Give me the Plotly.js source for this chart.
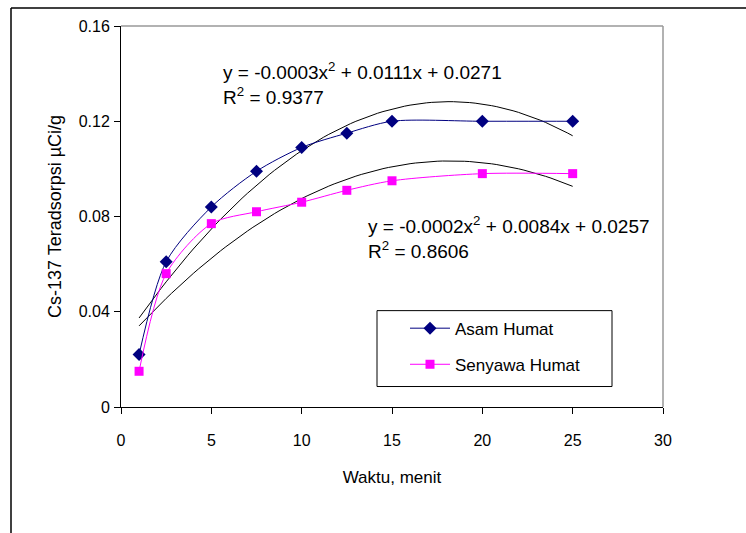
<!DOCTYPE html>
<html>
<head>
<meta charset="utf-8">
<script src="https://cdn.plot.ly/plotly-3.0.1.min.js"></script>
<style>
html,body{margin:0;padding:0;background:#fff;}
#chart{width:746px;height:533px;}
</style>
</head>
<body>
<div id="chart"></div>
<script>
// ---- data ----
var waktu = [1, 2.5, 5, 7.5, 10, 12.5, 15, 20, 25];
var asamHumat = [0.022, 0.061, 0.084, 0.099, 0.109, 0.115, 0.120, 0.120, 0.120];
var senyawaHumat = [0.015, 0.056, 0.077, 0.082, 0.086, 0.091, 0.095, 0.098, 0.098];
var seriesNames = ["Asam Humat", "Senyawa Humat"];
var xTicks = [0, 5, 10, 15, 20, 25, 30];
var yTicks = [0, 0.04, 0.08, 0.12, 0.16];
var yTickText = ["0", "0.04", "0.08", "0.12", "0.16"];
var eqAsam = ["y = -0.0003x<sup>2</sup> + 0.0111x + 0.0271", "R<sup>2</sup> = 0.9377"];
var eqSenyawa = ["y = -0.0002x<sup>2</sup> + 0.0084x + 0.0257", "R<sup>2</sup> = 0.8606"];

// least-squares quadratic trendline (as Excel's polynomial trendline)
function polyFit2(xs, ys) {
  var S = [0,0,0,0,0], T = [0,0,0];
  for (var i = 0; i < xs.length; i++) {
    var p = 1;
    for (var k = 0; k < 5; k++) { S[k] += p; if (k < 3) T[k] += p * ys[i]; p *= xs[i]; }
  }
  var A = [[S[0],S[1],S[2],T[0]],[S[1],S[2],S[3],T[1]],[S[2],S[3],S[4],T[2]]];
  for (var c = 0; c < 3; c++) {
    for (var r = c + 1; r < 3; r++) {
      var f = A[r][c] / A[c][c];
      for (var j = c; j < 4; j++) A[r][j] -= f * A[c][j];
    }
  }
  var sol = [0,0,0];
  for (var r2 = 2; r2 >= 0; r2--) {
    var s = A[r2][3];
    for (var j2 = r2 + 1; j2 < 3; j2++) s -= A[r2][j2] * sol[j2];
    sol[r2] = s / A[r2][r2];
  }
  return sol; // a0 + a1 x + a2 x^2
}
function trend(xs, ys) {
  var c = polyFit2(xs, ys);
  var tx = [], ty = [];
  var x0 = xs[0], x1 = xs[xs.length - 1], n = 80;
  for (var i = 0; i <= n; i++) {
    var x = x0 + (x1 - x0) * i / n;
    tx.push(x); ty.push(c[0] + c[1] * x + c[2] * x * x);
  }
  return {x: tx, y: ty};
}
var tA = trend(waktu, asamHumat);
var tS = trend(waktu, senyawaHumat);

var font = "Liberation Sans, Arial, sans-serif";

var traces = [
  {x: tA.x, y: tA.y, mode: "lines", line: {color: "#000000", width: 1}, showlegend: false, hoverinfo: "skip"},
  {x: tS.x, y: tS.y, mode: "lines", line: {color: "#000000", width: 1}, showlegend: false, hoverinfo: "skip"},
  {x: waktu, y: asamHumat, name: seriesNames[0], mode: "lines+markers", legendgroup: "a",
   line: {color: "#000080", width: 1, shape: "spline", smoothing: 0.8},
   marker: {symbol: "diamond", size: 10, color: "#000080"}},
  {x: waktu, y: senyawaHumat, name: seriesNames[1], mode: "lines+markers", legendgroup: "b",
   line: {color: "#FF00FF", width: 1, shape: "spline", smoothing: 0.8},
   marker: {symbol: "square", size: 9, color: "#FF00FF"}}
];

var L = 121, R = 663, T = 26, B = 407.5;
var W = R - L, H = B - T;
function px(v) { return (v - L) / W; }
function py(v) { return (B - v) / H; }

var layout = {
  width: 746, height: 533,
  margin: {l: L, r: 746 - R, t: T, b: 533 - B, pad: 0},
  paper_bgcolor: "#ffffff", plot_bgcolor: "#ffffff",
  font: {family: font, size: 16, color: "#000000"},
  showlegend: true,
  legend: {x: px(405), y: py(311), xanchor: "left", yanchor: "top",
           bgcolor: "rgba(0,0,0,0)", borderwidth: 0, itemwidth: 40,
           font: {family: font, size: 17, color: "#000"}, tracegroupgap: 11},
  xaxis: {range: [0, 30], tickvals: xTicks, ticks: "outside", ticklen: 6, tickcolor: "#000",
          showgrid: false, zeroline: false, showline: true, linecolor: "#000", linewidth: 1,
          ticklabelstandoff: 13, tickfont: {family: font, size: 16},
          title: {text: "Waktu, menit", font: {family: font, size: 17}, standoff: 22}},
  yaxis: {range: [0, 0.16], tickvals: yTicks, ticktext: yTickText, ticks: "outside", ticklen: 6, tickcolor: "#000",
          showgrid: false, zeroline: false, showline: true, linecolor: "#000", linewidth: 1,
          ticklabelstandoff: 1, tickfont: {family: font, size: 16},
          title: {text: "Cs-137 Teradsorpsi µCi/g", font: {family: font, size: 18}, standoff: 12}},
  shapes: [
    // plot area border (top/right, grey)
    {type: "line", xref: "paper", yref: "paper", x0: 0, x1: 1, y0: 1, y1: 1, line: {color: "#999999", width: 1.5}},
    {type: "line", xref: "paper", yref: "paper", x0: 1, x1: 1, y0: 0, y1: 1, line: {color: "#999999", width: 1.5}},
    // outer chart frame
    {type: "line", xref: "paper", yref: "paper", x0: px(11), x1: px(760), y0: py(8), y1: py(8), line: {color: "#000", width: 1.5}},
    {type: "line", xref: "paper", yref: "paper", x0: px(11), x1: px(11), y0: py(8), y1: py(545), line: {color: "#000", width: 1.5}},
    // legend box
    {type: "rect", xref: "paper", yref: "paper", x0: px(377), x1: px(612), y0: py(311), y1: py(387), line: {color: "#000", width: 1}}
  ],
  annotations: [
    {xref: "paper", yref: "paper", x: px(221), y: py(71), xanchor: "left", yanchor: "middle", showarrow: false,
     text: eqAsam[0], font: {family: font, size: 19}},
    {xref: "paper", yref: "paper", x: px(221), y: py(96), xanchor: "left", yanchor: "middle", showarrow: false,
     text: eqAsam[1], font: {family: font, size: 19}},
    {xref: "paper", yref: "paper", x: px(366), y: py(225), xanchor: "left", yanchor: "middle", showarrow: false,
     text: eqSenyawa[0], font: {family: font, size: 19}},
    {xref: "paper", yref: "paper", x: px(366), y: py(250), xanchor: "left", yanchor: "middle", showarrow: false,
     text: eqSenyawa[1], font: {family: font, size: 19}}
  ]
};

Plotly.newPlot("chart", traces, layout, {displayModeBar: false, staticPlot: true});
</script>
</body>
</html>
